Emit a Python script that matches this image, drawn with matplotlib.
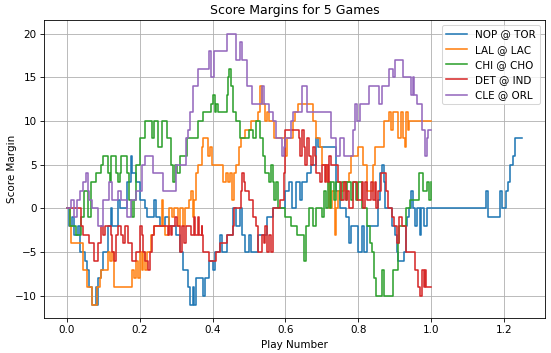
#!/usr/bin/env python3
"""Score margin over the course of 5 games (play number normalised to 0-1, OT runs past 1)."""
import matplotlib

matplotlib.use("Agg")
import matplotlib.pyplot as plt

GAMES = ["NOP @ TOR", "LAL @ LAC", "CHI @ CHO", "DET @ IND", "CLE @ ORL"]

# change points (play fraction, margin), drawn as steps
NOP_X = [0.0, 0.005, 0.015, 0.02, 0.03, 0.035, 0.05, 0.055, 0.062, 0.07, 0.08, 0.083, 0.086,
         0.095, 0.1, 0.113, 0.12, 0.125, 0.14, 0.145, 0.165, 0.175, 0.18, 0.19, 0.2, 0.215,
         0.22, 0.24, 0.245, 0.255, 0.27, 0.28, 0.3, 0.31, 0.32, 0.332, 0.338, 0.345, 0.35,
         0.355, 0.375, 0.38, 0.39, 0.4, 0.407, 0.42, 0.425, 0.44, 0.455, 0.465, 0.475, 0.48,
         0.49, 0.5, 0.505, 0.525, 0.55, 0.565, 0.6, 0.61, 0.618, 0.63, 0.64, 0.645, 0.66,
         0.67, 0.685, 0.69, 0.74, 0.75, 0.765, 0.775, 0.78, 0.8, 0.81, 0.815, 0.825, 0.855,
         0.86, 0.865, 0.87, 0.873, 0.892, 0.9, 0.905, 0.91, 0.925, 0.93, 0.935, 0.94, 0.945,
         0.95, 0.955, 0.96, 0.97, 0.972, 0.98, 0.99, 1.15, 1.155, 1.19, 1.195, 1.205, 1.21,
         1.217, 1.225, 1.23, 1.25]
NOP_Y = [0, -2, -1, -3, -2, -5, -6, -7, -9, -11, -9, -11, -8,
         -7, -5, -2, 0, -2, 1, 0, 3, 6, 4, 3, 1, 0,
         -1, 1, -1, -2, -1, -2, -3, -5, -7, -9, -11, -9, -11,
         -8, -10, -8, -6, -7, -5, -3, -5, -3, 0, -2, 0, -3,
         -5, -3, -5, -3, -1, 0, 2, 3, 0, 3, 1, 3, 4,
         5, 8, 7, 2, 0, -1, -4, -2, -5, -2, -5, -2, 1,
         4, 5, 3, 0, -2, -3, -5, -6, -5, -2, -1, 0, 2,
         0, -2, 0, -3, 0, -2, 0, 2, -1, 2, 0, 2, 3,
         5, 6, 8, 8]

LAL_X = [0.0, 0.01, 0.012, 0.045, 0.055, 0.068, 0.083, 0.09, 0.095, 0.113, 0.118, 0.125,
         0.13, 0.18, 0.185, 0.19, 0.195, 0.2, 0.205, 0.21, 0.215, 0.22, 0.23, 0.24, 0.26,
         0.265, 0.27, 0.28, 0.29, 0.295, 0.305, 0.31, 0.32, 0.325, 0.335, 0.34, 0.345, 0.35,
         0.355, 0.36, 0.37, 0.375, 0.388, 0.392, 0.398, 0.43, 0.438, 0.442, 0.448, 0.452,
         0.458, 0.465, 0.472, 0.478, 0.49, 0.505, 0.525, 0.53, 0.535, 0.545, 0.55, 0.555,
         0.57, 0.6, 0.605, 0.62, 0.625, 0.635, 0.675, 0.685, 0.695, 0.7, 0.715, 0.72, 0.727,
         0.735, 0.74, 0.745, 0.76, 0.775, 0.78, 0.8, 0.813, 0.825, 0.84, 0.845, 0.87, 0.885,
         0.89, 0.895, 0.91, 0.918, 0.923, 0.928, 0.932, 0.937, 0.94, 1.0]
LAL_Y = [0, -2, -4, -7, -9, -11, -9, -8, -7, -5, -6, -5,
         -9, -7, -8, -6, -8, -5, -7, -5, -7, -5, -3, -2, 1,
         -2, -3, 0, -1, 0, -2, 0, -2, 0, 1, 2, -1, 1,
         4, 5, 7, 8, 6, 7, 5, 3, 4, 3, 4, 1,
         4, 5, 7, 8, 9, 10, 11, 14, 12, 10, 11, 10,
         8, 6, 8, 10, 11, 12, 10, 8, 7, 5, 3, 0, 2,
         -3, 0, 2, 3, 4, 6, 7, 5, 2, 5, 7, 10, 11,
         9, 11, 8, 11, 8, 7, 11, 9, 10, 10]

CHI_X = [0.0, 0.01, 0.025, 0.04, 0.048, 0.058, 0.065, 0.08, 0.095, 0.1, 0.112, 0.118, 0.122,
         0.135, 0.14, 0.145, 0.15, 0.165, 0.17, 0.18, 0.185, 0.19, 0.2, 0.215, 0.235, 0.24,
         0.25, 0.26, 0.275, 0.285, 0.292, 0.297, 0.302, 0.31, 0.33, 0.36, 0.374, 0.395, 0.4,
         0.408, 0.41, 0.415, 0.44, 0.442, 0.445, 0.45, 0.455, 0.465, 0.475, 0.5, 0.51, 0.52,
         0.53, 0.538, 0.545, 0.555, 0.56, 0.565, 0.57, 0.575, 0.58, 0.6, 0.615, 0.632, 0.652,
         0.656, 0.665, 0.675, 0.685, 0.7, 0.707, 0.712, 0.718, 0.722, 0.726, 0.732, 0.738,
         0.75, 0.755, 0.765, 0.77, 0.78, 0.785, 0.795, 0.8, 0.81, 0.825, 0.832, 0.838, 0.842,
         0.848, 0.865, 0.87, 0.895, 0.91, 0.913, 0.93, 0.942, 0.968, 0.978, 0.99, 0.995, 1.0]
CHI_Y = [0, -2, -3, -1, 2, -1, 3, 4, 5, 6, 4, 3, 6,
         4, 3, 4, 6, 4, 1, -1, 1, 5, 8, 10, 8, 10,
         7, 10, 8, 5, 3, 5, 4, 6, 8, 10, 11, 12, 13,
         11, 12, 11, 13, 15, 16, 14, 11, 10, 8, 9, 8, 10,
         8, 6, 4, 3, 5, 3, 1, 3, 0, -1, -2, -3, -6,
         -2, 0, -2, 0, -1, 2, 0, 3, 0, 3, 1, 3,
         1, 3, 1, 3, 1, 3, 1, 3, 0, -2, -4, -5, -8,
         -10, -7, -10, -7, -4, -2, 0, 1, 4, 2, 3, 1, 3]

DET_X = [0.0, 0.04, 0.045, 0.06, 0.075, 0.085, 0.095, 0.1, 0.105, 0.12, 0.125, 0.13, 0.135,
         0.14, 0.15, 0.155, 0.16, 0.168, 0.175, 0.18, 0.19, 0.2, 0.205, 0.21, 0.215, 0.222,
         0.228, 0.233, 0.24, 0.277, 0.28, 0.285, 0.29, 0.297, 0.303, 0.31, 0.315, 0.322,
         0.327, 0.34, 0.35, 0.352, 0.36, 0.362, 0.37, 0.372, 0.375, 0.39, 0.41, 0.42, 0.44,
         0.455, 0.46, 0.478, 0.482, 0.487, 0.49, 0.5, 0.51, 0.52, 0.525, 0.535, 0.54, 0.545,
         0.55, 0.555, 0.56, 0.565, 0.585, 0.595, 0.598, 0.6, 0.638, 0.64, 0.645, 0.65, 0.655,
         0.66, 0.665, 0.67, 0.675, 0.68, 0.685, 0.695, 0.7, 0.708, 0.712, 0.716, 0.72, 0.725,
         0.745, 0.752, 0.76, 0.765, 0.77, 0.775, 0.785, 0.797, 0.81, 0.812, 0.818, 0.825,
         0.835, 0.84, 0.845, 0.85, 0.855, 0.862, 0.875, 0.882, 0.893, 0.897, 0.907, 0.912,
         0.92, 0.93, 0.955, 0.965, 0.97, 0.975, 0.98, 0.983, 0.987, 1.0]
DET_Y = [0, -2, -3, -4, -6, -4, -2, -3, -2, -3, -5, -6, -3,
         -2, -3, -4, -2, -4, -4, -6, -5, -2, -3, -5, -6, -7,
         -5, -3, -2, -3, -2, -3, -2, -1, -2, -5, -2, -4,
         -2, -3, -1, -3, -1, -3, -2, -3, -5, -6, -5, -4, -3,
         -2, 0, 2, 4, 3, 2, 1, -1, -2, -5, -3, -4, -2,
         -5, -3, -5, 0, 1, 4, 8, 9, 8, 6, 9, 7, 5,
         8, 6, 5, 7, 6, 4, 3, 5, 3, 5, 3, 6, 5,
         3, 1, 3, 1, 2, 0, 3, 1, 3, 0, 3, 1,
         3, 1, 3, 0, 2, 4, 2, 0, -1, -2, -4, -1,
         -2, -5, -7, -9, -10, -7, -9, -7, -9, -9]

CLE_X = [0.0, 0.012, 0.02, 0.027, 0.035, 0.045, 0.053, 0.058, 0.062, 0.07, 0.085, 0.1, 0.115,
         0.125, 0.14, 0.15, 0.165, 0.175, 0.19, 0.205, 0.215, 0.236, 0.265, 0.3, 0.327, 0.332,
         0.338, 0.345, 0.36, 0.39, 0.395, 0.405, 0.44, 0.465, 0.475, 0.482, 0.495, 0.508,
         0.535, 0.54, 0.555, 0.565, 0.575, 0.59, 0.595, 0.6, 0.615, 0.62, 0.645, 0.66, 0.695,
         0.725, 0.74, 0.75, 0.76, 0.785, 0.79, 0.797, 0.805, 0.83, 0.858, 0.865, 0.885, 0.895,
         0.9, 0.923, 0.945, 0.95, 0.953, 0.96, 0.975, 0.982, 0.988, 0.992, 1.0]
CLE_Y = [0, 1, -1, 1, 2, 3, 4, 2, 1, 0, -2, 1, 3,
         1, 2, 1, -1, 1, 2, 5, 6, 4, 2, 5, 8, 9,
         11, 14, 16, 18, 15, 18, 20, 17, 19, 17, 14, 12,
         14, 12, 11, 10, 8, 6, 7, 8, 10, 11, 14, 11, 11,
         8, 6, 8, 6, 9, 12, 10, 12, 14, 12, 14, 16, 15,
         17, 15, 13, 15, 13, 12, 9, 6, 8, 9, 9]

SERIES = [(NOP_X, NOP_Y), (LAL_X, LAL_Y), (CHI_X, CHI_Y), (DET_X, DET_Y), (CLE_X, CLE_Y)]


def main() -> None:
    fig, ax = plt.subplots(figsize=(7.347, 4.707), dpi=75)
    fig.subplots_adjust(left=0.08, right=0.989, bottom=0.099, top=0.943)

    for name, (xs, ys) in zip(GAMES, SERIES):
        ax.plot(xs, ys, drawstyle="steps-post", linewidth=1.5, label=name)

    ax.set_title("Score Margins for 5 Games")
    ax.set_xlabel("Play Number")
    ax.set_ylabel("Score Margin", labelpad=-2)
    ax.grid(True)
    ax.legend(loc="upper right")

    fig.savefig("out.png", dpi=75)
    plt.close(fig)


if __name__ == "__main__":
    main()
